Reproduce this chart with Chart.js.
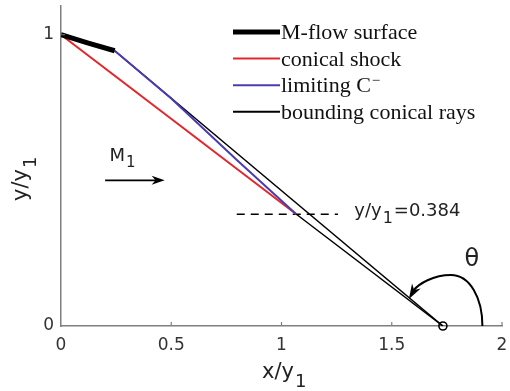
<!DOCTYPE html>
<html>
<head>
<meta charset="utf-8">
<script src="https://cdn.jsdelivr.net/npm/chart.js@4"></script>
<style>
  html, body { margin: 0; padding: 0; background: #fff; }
  canvas { display: block; }
</style>
</head>
<body>
<canvas id="coneChart" width="510" height="391"></canvas>
<script>
// values (x/y1, y/y1)
const mflowX = [0, 0.12, 0.2435];
const mflowY = [1, 0.972, 0.945];
const shockX = [0, 1.066];
const shockY = [1, 0.3845];
const cminusX = [0.2435, 0.5, 0.8, 1.066];
const cminusY = [0.945, 0.781, 0.568, 0.3845];
const rayUpperX = [0.2435, 1.732];
const rayUpperY = [0.945, 0];
const rayLowerX = [1.066, 1.732];
const rayLowerY = [0.3845, 0];
const levelX = [0.797, 1.256];
const levelY = [0.384, 0.384];
const apexX = [1.732];
const apexY = [0];

const xTicks = [0, 0.5, 1, 1.5, 2];
const yTicks = [0, 1];
const legendLabels = ["M-flow surface", "conical shock", "limiting C", "bounding conical rays"];

const RED = "#e3262b";
const BLUE = "#4a3cb0";
const AXIS = "#7f7f7f";

function pts(xs, ys) {
    return xs.map((x, i) => ({ x: x, y: ys[i] }));
}

function line(label, xs, ys, color, width, extra) {
    return Object.assign({
        label: label,
        data: pts(xs, ys),
        showLine: true,
        borderColor: color,
        borderWidth: width,
        pointRadius: 0,
        fill: false,
        tension: 0
    }, extra || {});
}

// text with a lowered "1" etc
function subText(ctx, main, sub, x, y, size, subSize, drop) {
    ctx.font = size + "px 'DejaVu Sans'";
    ctx.fillText(main, x, y);
    const w = ctx.measureText(main).width;
    ctx.font = subSize + "px 'DejaVu Sans'";
    ctx.fillText(sub, x + w + 1, y + drop);
    return x + w + 1 + ctx.measureText(sub).width;
}

function arrowHead(ctx, tx, ty, dx, dy, len, half) {
    const n = Math.hypot(dx, dy);
    dx /= n; dy /= n;
    ctx.beginPath();
    ctx.moveTo(tx, ty);
    ctx.lineTo(tx - dx * len - dy * half, ty - dy * len + dx * half);
    ctx.lineTo(tx - dx * len * 0.7, ty - dy * len * 0.7);
    ctx.lineTo(tx - dx * len + dy * half, ty - dy * len - dx * half);
    ctx.closePath();
    ctx.fill();
}

const extras = {
    id: "extras",
    afterDraw(chart) {
        const ctx = chart.ctx;
        const sx = chart.scales.x, sy = chart.scales.y;
        const area = chart.chartArea;
        ctx.save();

        // inward ticks
        ctx.strokeStyle = AXIS;
        ctx.lineWidth = 1.2;
        ctx.beginPath();
        xTicks.slice(1).forEach(v => {
            const p = sx.getPixelForValue(v);
            ctx.moveTo(p, area.bottom);
            ctx.lineTo(p, area.bottom - 4);
        });
        yTicks.slice(1).forEach(v => {
            const p = sy.getPixelForValue(v);
            ctx.moveTo(area.left, p);
            ctx.lineTo(area.left + 4, p);
        });
        ctx.stroke();

        // axis titles
        ctx.fillStyle = "#222";
        ctx.textAlign = "left";
        ctx.textBaseline = "alphabetic";
        subText(ctx, "x/y", "1", 262, 378, 21, 18, 9);
        ctx.save();
        ctx.translate(27, 201);
        ctx.rotate(-Math.PI / 2);
        subText(ctx, "y/y", "1", 0, 0, 21, 18, 9);
        ctx.restore();

        // level label
        const lx = sx.getPixelForValue(1.33), ly = sy.getPixelForValue(0.384) + 2;
        const after = subText(ctx, "y/y", "1", lx, ly, 18, 16, 7);
        ctx.font = "18px 'DejaVu Sans'";
        ctx.fillText("=0.384", after + 1, ly);

        // M1 arrow
        ctx.fillStyle = "#000";
        ctx.strokeStyle = "#000";
        const m0 = sx.getPixelForValue(0.2), m1 = sx.getPixelForValue(0.47), my = sy.getPixelForValue(0.5);
        ctx.lineWidth = 1.6;
        ctx.beginPath();
        ctx.moveTo(m0, my);
        ctx.lineTo(m1 - 6, my);
        ctx.stroke();
        arrowHead(ctx, m1, my, 1, 0, 13, 4.5);
        ctx.fillStyle = "#222";
        subText(ctx, "M", "1", sx.getPixelForValue(0.22), sy.getPixelForValue(0.566), 18, 15, 6);

        // theta arc
        const ax = sx.getPixelForValue(apexX[0]), ay = sy.getPixelForValue(apexY[0]);
        ctx.strokeStyle = "#000";
        ctx.fillStyle = "#000";
        ctx.lineWidth = 2;
        ctx.beginPath();
        ctx.moveTo(ax + 39.5, ay);
        ctx.bezierCurveTo(ax + 39.5, ay - 28, ax + 27, ay - 51, ax + 8, ay - 51);
        ctx.bezierCurveTo(ax - 10, ay - 51, ax - 24, ay - 42, ax - 29, ay - 36);
        ctx.stroke();
        arrowHead(ctx, ax - 34, ay - 27, -0.5, 0.87, 15, 5);
        ctx.fillStyle = "#222";
        ctx.font = "24px 'DejaVu Sans'";
        ctx.textAlign = "center";
        ctx.fillText("\u03b8", ax + 29, ay - 60);

        // legend
        const ds = chart.data.datasets;
        const rows = [ds[1], ds[3], ds[2], ds[4]];
        ctx.textAlign = "left";
        rows.forEach((d, i) => {
            const y = 32 + i * 26.6;
            ctx.strokeStyle = d.borderColor;
            ctx.lineWidth = i === 0 ? 5 : 2;
            ctx.beginPath();
            ctx.moveTo(233, y);
            ctx.lineTo(280, y);
            ctx.stroke();
            ctx.fillStyle = "#111";
            ctx.font = "22px 'Liberation Serif'";
            ctx.fillText(legendLabels[i], 281, y + 7);
            if (i === 2) {
                const w = ctx.measureText(legendLabels[i]).width;
                ctx.font = "15px 'Liberation Serif'";
                ctx.fillText("\u2212", 281 + w + 1, y);
            }
        });

        ctx.restore();
    }
};

const ctx = document.getElementById("coneChart").getContext("2d");
new Chart(ctx, {
    type: "scatter",
    data: {
        datasets: [
            { label: "apex", data: pts(apexX, apexY), pointRadius: 4, pointBorderWidth: 1.6,
              pointBorderColor: "#000", pointBackgroundColor: "rgba(0,0,0,0)", clip: false },
            line("M-flow surface", mflowX, mflowY, "#000", 5),
            line("limiting C-", cminusX, cminusY, BLUE, 2),
            line("conical shock", shockX, shockY, RED, 2),
            line("bounding conical rays", rayUpperX, rayUpperY, "#000", 1.5),
            line("bounding conical rays", rayLowerX, rayLowerY, "#000", 1.5),
            line("y/y1 level", levelX, levelY, "#000", 1.5, { borderDash: [8, 6] })
        ]
    },
    options: {
        responsive: false,
        animation: false,
        devicePixelRatio: 1,
        layout: { padding: { top: 4, right: 8, left: 0, bottom: 0 } },
        plugins: {
            legend: { display: false },
            tooltip: { enabled: false }
        },
        scales: {
            x: {
                type: "linear",
                min: 0,
                max: 2,
                afterBuildTicks: s => { s.ticks = xTicks.map(v => ({ value: v })); },
                afterFit: s => { s.height = 65; s.paddingLeft = 0; s.paddingRight = 0; },
                grid: { display: false, drawTicks: false },
                border: { color: AXIS, width: 1.5 },
                ticks: { padding: 9, color: "#333", maxRotation: 0, autoSkip: false,
                         font: { family: "DejaVu Sans", size: 17 }, callback: v => String(v) }
            },
            y: {
                type: "linear",
                min: 0,
                max: 1.1,
                afterBuildTicks: s => { s.ticks = yTicks.map(v => ({ value: v })); },
                afterFit: s => { s.width = 61; s.paddingTop = 0; s.paddingBottom = 0; },
                grid: { display: false, drawTicks: false },
                border: { color: AXIS, width: 1.5 },
                ticks: { padding: 7, color: "#333", autoSkip: false,
                         font: { family: "DejaVu Sans", size: 17 }, callback: v => String(v) }
            }
        }
    },
    plugins: [extras]
});
</script>
</body>
</html>
